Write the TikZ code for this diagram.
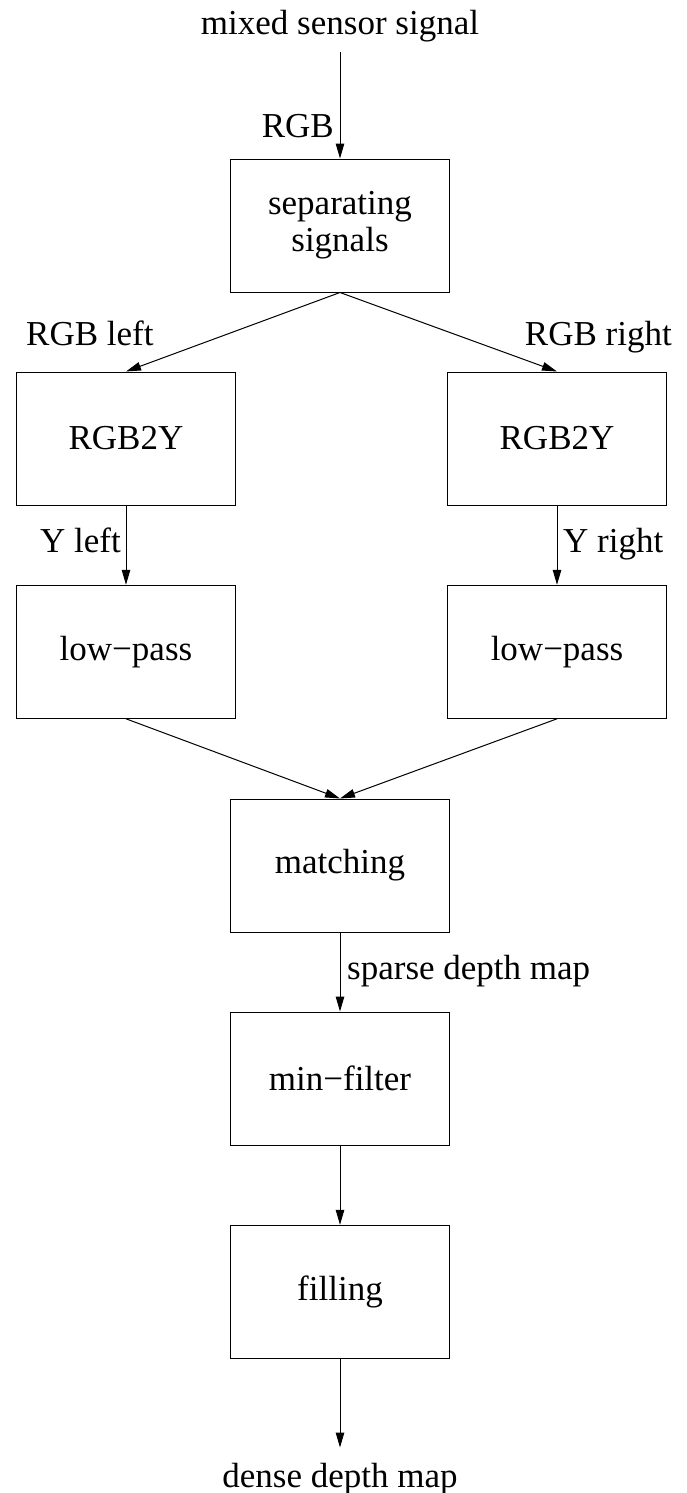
\documentclass[tikz,border=0pt]{standalone}
\usepackage{fontspec}
\setmainfont{Liberation Serif}
\usetikzlibrary{arrows.meta}
\begin{document}
\begin{tikzpicture}[x=1pt,y=-1pt,
  blk/.style={draw, line width=1pt, minimum width=219pt, minimum height=133pt,
              inner sep=0pt, align=center, font=\fontsize{35}{37}\selectfont},
  lbl/.style={inner sep=0pt, font=\fontsize{35}{37}\selectfont},
  flow/.style={draw, line width=1pt, -{Triangle[length=15pt,width=8.5pt]}}]
\useasboundingbox (0,0) rectangle (687,1493);

% processing blocks
\node[blk] (sep)  at (340,225.5)  {separating\\signals};
\node[blk] (cyl)  at (126,438.5)  {RGB2Y};
\node[blk] (cyr)  at (557,438.5)  {RGB2Y};
\node[blk] (lpl)  at (126,651.8)  {low−pass};
\node[blk] (lpr)  at (557,651.8)  {low−pass};
\node[blk] (mat)  at (340,865.5)  {matching};
\node[blk] (minf) at (340,1078.5) {min−filter};
\node[blk] (fil)  at (340,1291.8) {filling};

% input and output
\node[lbl, anchor=base] (src) at (340,35)   {mixed sensor signal};
\node[lbl, anchor=base] (dst) at (340,1487) {dense depth map};

% signal labels
\node[lbl, anchor=base east] (lrgb)  at (334,138)   {RGB};
\node[lbl, anchor=base west] (lrgbl) at (26,345.7)  {RGB left};
\node[lbl, anchor=base east] (lrgbr) at (672,345.7) {RGB right};
\node[lbl, anchor=base east] (lyl)   at (121,552.7) {Y left};
\node[lbl, anchor=base west] (lyr)   at (563,552.7) {Y right};
\node[lbl, anchor=base west] (lsdm)  at (347,979)   {sparse depth map};

% connectors
\draw[flow, shorten <=9pt] (src.south) -- (sep.north);
\draw[flow] (sep.south) -- (cyl.north);
\draw[flow] (sep.south) -- (cyr.north);
\draw[flow] (cyl.south) -- (lpl.north);
\draw[flow] (cyr.south) -- (lpr.north);
\draw[flow] (lpl.south) -- (mat.north);
\draw[flow] (lpr.south) -- (mat.north);
\draw[flow] (mat.south) -- (minf.north);
\draw[flow] (minf.south) -- (fil.north);
\draw[flow, shorten >=15pt] (fil.south) -- (dst.north);
\end{tikzpicture}
\end{document}
